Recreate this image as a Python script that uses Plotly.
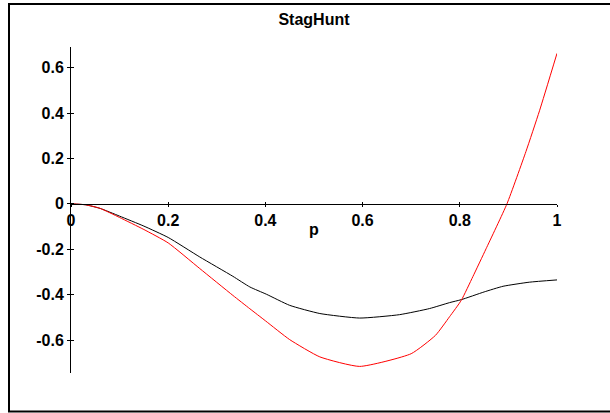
import plotly.graph_objects as go

title_text = "StagHunt"
x_label = "p"

black_p = [0.0, 0.03, 0.06, 0.10, 0.15, 0.20, 0.265, 0.333, 0.368, 0.402, 0.45, 0.512,
           0.594, 0.676, 0.738, 0.779, 0.803, 0.85, 0.889, 0.943, 1.0]
black_v = [0.0, -0.004, -0.02, -0.054, -0.098, -0.148, -0.234, -0.319, -0.366, -0.398, -0.447, -0.483,
           -0.503, -0.488, -0.461, -0.435, -0.422, -0.388, -0.363, -0.345, -0.335]

red_p = [0.0, 0.03, 0.06, 0.10, 0.15, 0.20, 0.265, 0.333, 0.368, 0.40, 0.45, 0.512, 0.594,
         0.70, 0.75, 0.779, 0.803, 0.827, 0.854, 0.897, 0.936, 0.964, 1.0]
red_v = [0.0, -0.004, -0.02, -0.06, -0.113, -0.172, -0.285, -0.403, -0.462, -0.515, -0.598, -0.674, -0.716,
         -0.66, -0.579, -0.497, -0.425, -0.32, -0.198, 0.0, 0.23, 0.41, 0.663]

x_ticks = [0, 0.2, 0.4, 0.6, 0.8, 1]
x_tick_text = ["0", "0.2", "0.4", "0.6", "0.8", "1"]
y_ticks = [-0.6, -0.4, -0.2, 0, 0.2, 0.4, 0.6]
y_tick_text = ["-0.6", "-0.4", "-0.2", "0", "0.2", "0.4", "0.6"]

y_range = [-0.745, 0.691]
x_range = [0, 1]
x_axis_pos = (0 - y_range[0]) / (y_range[1] - y_range[0])

font = dict(family="Liberation Sans", size=16, color="black", weight="bold")

fig = go.Figure()
fig.add_trace(go.Scatter(x=black_p, y=black_v, mode="lines",
                         line=dict(color="black", width=1, shape="spline", smoothing=0.5),
                         hoverinfo="skip"))
fig.add_trace(go.Scatter(x=red_p, y=red_v, mode="lines",
                         line=dict(color="#ff0000", width=1, shape="spline", smoothing=0.5),
                         hoverinfo="skip"))
# dummy trace for overlay axes (inside ticks)
fig.add_trace(go.Scatter(x=[None], y=[None], xaxis="x2", yaxis="y2", showlegend=False))

fig.update_layout(
    width=610, height=413,
    margin=dict(l=71, r=53, t=47, b=40),
    paper_bgcolor="white", plot_bgcolor="white",
    showlegend=False,
    title=dict(text=title_text, x=0.5, xref="paper", xanchor="center",
               y=1 - 19 / 413, yref="container", yanchor="middle",
               font=dict(family="Liberation Sans", size=16, color="black", weight="bold")),
    xaxis=dict(range=x_range, anchor="free", position=x_axis_pos,
               showgrid=False, zeroline=False, showline=True, linecolor="black", linewidth=1,
               ticks="outside", ticklen=2, tickcolor="black", tickwidth=1,
               tickvals=x_ticks, ticktext=x_tick_text, tickfont=font),
    yaxis=dict(range=y_range, showgrid=False, zeroline=False,
               showline=True, linecolor="black", linewidth=1,
               ticks="outside", ticklen=3, tickcolor="black", tickwidth=1,
               tickvals=y_ticks, ticktext=y_tick_text, tickfont=font),
    xaxis2=dict(range=x_range, overlaying="x", anchor="free", position=x_axis_pos,
                showgrid=False, zeroline=False, showline=False,
                ticks="inside", ticklen=2, tickcolor="black", tickwidth=1,
                tickvals=x_ticks, showticklabels=False),
    yaxis2=dict(range=y_range, overlaying="y", showgrid=False, zeroline=False, showline=False,
                ticks="inside", ticklen=3, tickcolor="black", tickwidth=1,
                tickvals=y_ticks, showticklabels=False),
    annotations=[dict(text=x_label, x=0.5, xref="paper", y=-0.112, yref="y",
                      showarrow=False, xanchor="center", yanchor="middle",
                      font=dict(family="Liberation Sans", size=16, color="black", weight="bold"))],
    shapes=[dict(type="rect", xref="paper", yref="paper",
                 x0=(9 - 71) / 486, x1=(640 - 71) / 486,
                 y0=(373 - 411.5) / 326, y1=(373 - 4) / 326,
                 line=dict(color="black", width=2), layer="below")],
)

fig.write_html("out.html", config={"displayModeBar": False},
               post_script="document.body.style.margin='0';")
